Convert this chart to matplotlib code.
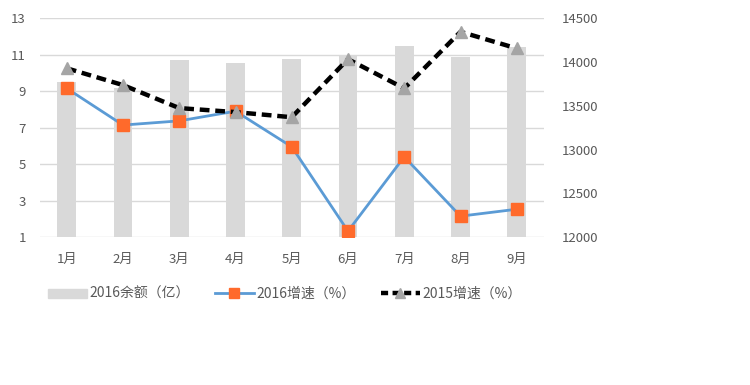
import numpy as np
import matplotlib.pyplot as plt
from matplotlib.patches import Patch
from matplotlib.lines import Line2D

plt.rcParams['font.family'] = ['Noto Sans CJK SC', 'DejaVu Sans']

months = ["1月", "2月", "3月", "4月", "5月", "6月", "7月", "8月", "9月"]
balance_2016 = [13770, 13700, 14020, 13985, 14030, 14065, 14180, 14055, 14170]
growth_2016 = [9.15, 7.14, 7.37, 7.9, 5.95, 1.33, 5.4, 2.15, 2.53]
growth_2015 = [10.25, 9.33, 8.07, 7.85, 7.57, 10.75, 9.15, 12.25, 11.34]

gray_txt = "#595959"


def main():
    fig = plt.figure(figsize=(7.5, 3.85), dpi=100)
    ax = fig.add_axes([0.053, 0.384, 0.672, 0.569])
    ax2 = ax.twinx()

    x = np.arange(len(months))
    ax2.bar(x, balance_2016, width=0.33, color="#d9d9d9", zorder=1)
    ax2.set_ylim(12000, 14500)
    ax2.set_yticks(np.arange(12000, 14501, 500))

    ax.set_zorder(ax2.get_zorder() + 1)
    ax.patch.set_visible(False)

    ax.plot(x, growth_2016, color="#5b9bd5", lw=2.0, marker="s", ms=8,
            mfc="#ff6a2b", mec="#ff6a2b", zorder=3)
    ax.plot(x, growth_2015, color="black", lw=3.2, ls=(0, (2.2, 1.3)),
            marker="^", ms=9, mfc="#a5a5a5", mec="#a5a5a5", zorder=4)

    ax.set_ylim(1, 13)
    ax.set_yticks(np.arange(1, 14, 2))
    ax.set_xlim(-0.48, len(months) - 0.52)
    ax.set_xticks(x)
    ax.set_xticklabels(months)
    ax.grid(axis="y", color="#d9d9d9", lw=1)
    ax.set_axisbelow(True)

    for a in (ax, ax2):
        for s in a.spines.values():
            s.set_visible(False)
        a.tick_params(length=0, colors=gray_txt, labelsize=9.5)
    ax.tick_params(axis="x", pad=11)
    ax.tick_params(axis="y", pad=10)
    ax2.tick_params(axis="y", pad=13)

    handles = [
        Patch(color="#d9d9d9"),
        Line2D([], [], color="#5b9bd5", lw=2.0, marker="s", ms=6.5,
               mfc="#ff6a2b", mec="#ff6a2b"),
        Line2D([], [], color="black", lw=3.2, ls=(0, (1.6, 1.0)),
               marker="^", ms=7, mfc="#a5a5a5", mec="#a5a5a5"),
    ]
    labels = ["2016余额（亿）", "2016增速（%）", "2015增速（%）"]
    fig.legend(handles, labels, loc="center left", bbox_to_anchor=(0.047, 0.236),
               ncol=3, frameon=False, fontsize=10, labelcolor=gray_txt,
               handlelength=2.8, handleheight=0.6, columnspacing=1.8,
               handletextpad=0.2)

    fig.savefig("out.png", dpi=100)


if __name__ == "__main__":
    main()
